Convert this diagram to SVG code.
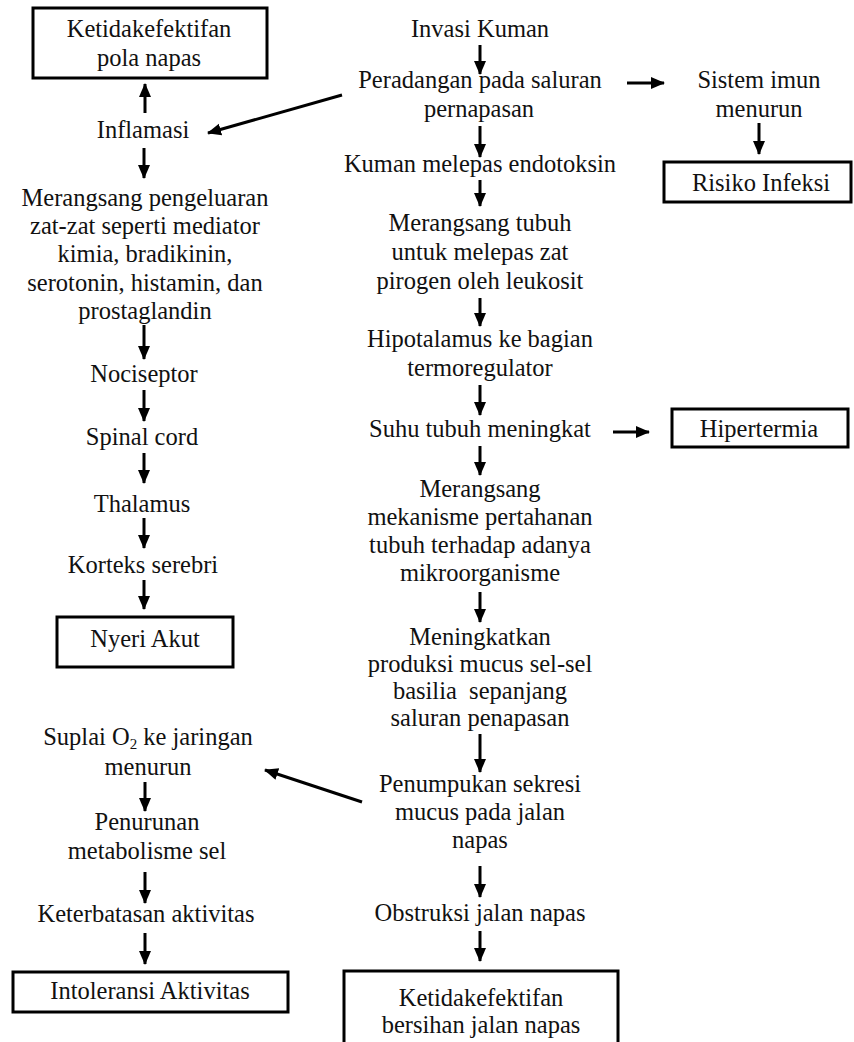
<svg xmlns="http://www.w3.org/2000/svg" width="854" height="1042" viewBox="0 0 854 1042">
<style>
.t{font-size:24.5px;fill:#111;text-anchor:middle}
.box{fill:#fff;stroke:#000;stroke-width:3}
.ln{stroke:#000;stroke-width:3;fill:none}
</style>
<defs>
<marker id="ah" markerUnits="userSpaceOnUse" markerWidth="14" markerHeight="14" viewBox="0 0 14 14" refX="13" refY="7" orient="auto">
<path d="M0,1 L14,7 L0,13 Z" fill="#000"/>
</marker>
</defs>
<rect width="854" height="1042" fill="#fff"/>

<g id="connectors">
<line class="ln" x1="480" y1="45" x2="480" y2="74" marker-end="url(#ah)"/>
<line class="ln" x1="480" y1="126" x2="480" y2="157" marker-end="url(#ah)"/>
<line class="ln" x1="480" y1="180" x2="480" y2="206" marker-end="url(#ah)"/>
<line class="ln" x1="480" y1="298" x2="480" y2="326" marker-end="url(#ah)"/>
<line class="ln" x1="480" y1="385" x2="480" y2="415" marker-end="url(#ah)"/>
<line class="ln" x1="480" y1="446" x2="480" y2="475" marker-end="url(#ah)"/>
<line class="ln" x1="480" y1="592" x2="480" y2="622" marker-end="url(#ah)"/>
<line class="ln" x1="480" y1="734" x2="480" y2="772" marker-end="url(#ah)"/>
<line class="ln" x1="480" y1="866" x2="480" y2="897" marker-end="url(#ah)"/>
<line class="ln" x1="480" y1="931" x2="480" y2="961" marker-end="url(#ah)"/>
<line class="ln" x1="627" y1="83" x2="664" y2="83" marker-end="url(#ah)"/>
<line class="ln" x1="759" y1="123" x2="759" y2="154" marker-end="url(#ah)"/>
<line class="ln" x1="613" y1="432" x2="649" y2="432" marker-end="url(#ah)"/>
<line class="ln" x1="342" y1="95" x2="208" y2="133" marker-end="url(#ah)"/>
<line class="ln" x1="145" y1="113" x2="145" y2="84" marker-end="url(#ah)"/>
<line class="ln" x1="144" y1="148" x2="144" y2="178" marker-end="url(#ah)"/>
<line class="ln" x1="144" y1="325" x2="144" y2="359" marker-end="url(#ah)"/>
<line class="ln" x1="144" y1="390" x2="144" y2="421" marker-end="url(#ah)"/>
<line class="ln" x1="144" y1="453" x2="144" y2="483" marker-end="url(#ah)"/>
<line class="ln" x1="144" y1="518" x2="144" y2="548" marker-end="url(#ah)"/>
<line class="ln" x1="144" y1="580" x2="144" y2="609" marker-end="url(#ah)"/>
<line class="ln" x1="145" y1="782" x2="145" y2="811" marker-end="url(#ah)"/>
<line class="ln" x1="145" y1="872" x2="145" y2="903" marker-end="url(#ah)"/>
<line class="ln" x1="145" y1="933" x2="145" y2="964" marker-end="url(#ah)"/>
<line class="ln" x1="362" y1="802" x2="265" y2="770" marker-end="url(#ah)"/>
</g>

<g font-family="Liberation Serif, Tinos, Noto Serif, DejaVu Serif, serif">
<g id="invasi"><text class="t" x="480" y="37">Invasi Kuman</text></g>
<g id="peradangan"><text class="t" x="480" y="88">Peradangan pada saluran</text><text class="t" x="479" y="117">pernapasan</text></g>
<g id="endotoksin"><text class="t" x="480" y="172">Kuman melepas endotoksin</text></g>
<g id="pirogen"><text class="t" x="480" y="231">Merangsang tubuh</text><text class="t" x="480" y="260">untuk melepas zat</text><text class="t" x="480" y="289">pirogen oleh leukosit</text></g>
<g id="hipotalamus"><text class="t" x="480" y="347">Hipotalamus ke bagian</text><text class="t" x="480" y="376">termoregulator</text></g>
<g id="suhu"><text class="t" x="480" y="437">Suhu tubuh meningkat</text></g>
<g id="mekanisme"><text class="t" x="480" y="497">Merangsang</text><text class="t" x="480" y="525">mekanisme pertahanan</text><text class="t" x="480" y="553">tubuh terhadap adanya</text><text class="t" x="480" y="581">mikroorganisme</text></g>
<g id="mucus"><text class="t" x="480" y="645">Meningkatkan</text><text class="t" x="480" y="672">produksi mucus sel-sel</text><text class="t" x="480" y="699" xml:space="preserve">basilia  sepanjang</text><text class="t" x="480" y="726">saluran penapasan</text></g>
<g id="penumpukan"><text class="t" x="480" y="792">Penumpukan sekresi</text><text class="t" x="480" y="820">mucus pada jalan</text><text class="t" x="480" y="848">napas</text></g>
<g id="obstruksi"><text class="t" x="480" y="921">Obstruksi jalan napas</text></g>
<g id="bersihan"><rect class="box" x="344" y="971" width="274" height="90"/><text class="t" x="481" y="1006">Ketidakefektifan</text><text class="t" x="481" y="1033">bersihan jalan napas</text></g>

<g id="imun"><text class="t" x="759" y="88">Sistem imun</text><text class="t" x="759" y="117">menurun</text></g>
<g id="risiko"><rect class="box" x="664" y="162" width="187" height="40"/><text class="t" x="761" y="191">Risiko Infeksi</text></g>
<g id="hipertermia"><rect class="box" x="672" y="409" width="176" height="38"/><text class="t" x="759" y="437">Hipertermia</text></g>

<g id="polanapas"><rect class="box" x="33" y="8" width="234" height="70"/><text class="t" x="149" y="37">Ketidakefektifan</text><text class="t" x="149" y="66">pola napas</text></g>
<g id="inflamasi"><text class="t" x="143" y="138">Inflamasi</text></g>
<g id="mediator"><text class="t" x="145" y="206">Merangsang pengeluaran</text><text class="t" x="145" y="234">zat-zat seperti mediator</text><text class="t" x="145" y="262">kimia, bradikinin,</text><text class="t" x="145" y="291">serotonin, histamin, dan</text><text class="t" x="145" y="319">prostaglandin</text></g>
<g id="nociseptor"><text class="t" x="144" y="382">Nociseptor</text></g>
<g id="spinal"><text class="t" x="142" y="445">Spinal cord</text></g>
<g id="thalamus"><text class="t" x="142" y="512">Thalamus</text></g>
<g id="korteks"><text class="t" x="143" y="573">Korteks serebri</text></g>
<g id="nyeri"><rect class="box" x="57" y="617" width="176" height="50"/><text class="t" x="145" y="647">Nyeri Akut</text></g>

<g id="suplai"><text class="t" x="148" y="745">Suplai O<tspan font-size="15" dy="4">2</tspan><tspan dy="-4"> ke jaringan</tspan></text><text class="t" x="148" y="775">menurun</text></g>
<g id="metabolisme"><text class="t" x="147" y="830">Penurunan</text><text class="t" x="147" y="859">metabolisme sel</text></g>
<g id="keterbatasan"><text class="t" x="146" y="922">Keterbatasan aktivitas</text></g>
<g id="intoleransi"><rect class="box" x="13" y="972" width="275" height="40"/><text class="t" x="150" y="999">Intoleransi Aktivitas</text></g>
</g>
</svg>
